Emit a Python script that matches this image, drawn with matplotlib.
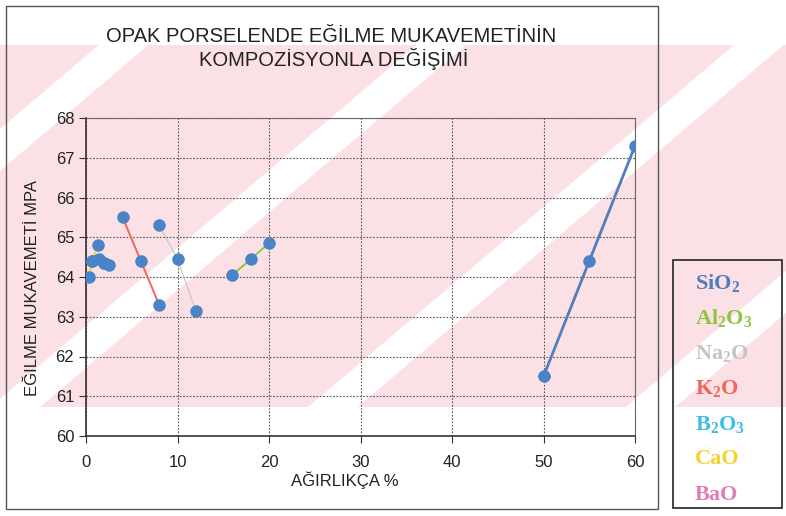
import numpy as np
import matplotlib
matplotlib.use('Agg')
import matplotlib.pyplot as plt
from matplotlib.patches import Rectangle, Polygon

# --- data (AĞIRLIKÇA %, EĞİLME MUKAVEMETİ MPA) ---
sio2_x = [50, 55, 60]
sio2_y = [61.5, 64.4, 67.3]
al2o3_x = [16, 18, 20]
al2o3_y = [64.05, 64.45, 64.85]
na2o_x = [8, 10, 12]
na2o_y = [65.3, 64.45, 63.15]
k2o_x = [4, 6, 8]
k2o_y = [65.5, 64.4, 63.3]
b2o3_x = [0.7, 1.4, 2.0]
b2o3_y = [64.4, 64.45, 64.35]
cao_x = [0.3, 0.7, 1.3]
cao_y = [64.0, 64.4, 64.8]
bao_x = [2.0, 2.5]
bao_y = [64.35, 64.3]

names = ['SiO$_2$', 'Al$_2$O$_3$', 'Na$_2$O', 'K$_2$O', 'B$_2$O$_3$', 'CaO', 'BaO']
colors = ['#4f7dbd', '#8dc63f', '#c4c4c4', '#f0665c', '#3dbbe9', '#f6d22c', '#e27cb9']
series = [(sio2_x, sio2_y), (al2o3_x, al2o3_y), (na2o_x, na2o_y), (k2o_x, k2o_y),
          (b2o3_x, b2o3_y), (cao_x, cao_y), (bao_x, bao_y)]
widths = [2.0, 1.4, 0.8, 1.4, 1.2, 1.4, 1.2]

x_ticks = [0, 10, 20, 30, 40, 50, 60]
y_ticks = [60, 61, 62, 63, 64, 65, 66, 67, 68]

plt.rcParams['font.family'] = ['Liberation Sans', 'DejaVu Sans']
plt.rcParams['mathtext.default'] = 'regular'

W, H = 786, 516
fig = plt.figure(figsize=(W / 100, H / 100), dpi=100)

# background layer in pixel units (watermark band + frames)
bg = fig.add_axes([0, 0, 1, 1], zorder=-5)
bg.set_xlim(0, W)
bg.set_ylim(H, 0)
bg.axis('off')
top, bot = 45, 407
pink = '#fbe1e5'
bg.add_patch(Rectangle((0, top), W, bot - top, color=pink, lw=0))
s, w = 0.85, 42
for b in [150, 420, 690, 960, 1230]:
    pts = [((b - w / 2 - top) / s, top), ((b + w / 2 - top) / s, top),
           ((b + w / 2 - bot) / s, bot), ((b - w / 2 - bot) / s, bot)]
    bg.add_patch(Polygon(pts, closed=True, color='white', lw=0))
bg.add_patch(Rectangle((6, 6), 652, 503, fill=False, ec='#555555', lw=1.0))
bg.add_patch(Rectangle((673, 260), 109, 248, fill=False, ec='#333333', lw=1.3))

# main axes
ax = fig.add_axes([86 / W, 1 - 436 / H, 549 / W, 318 / H])
ax.patch.set_alpha(0)
for (xs, ys), c, lw in zip(series, colors, widths):
    ax.plot(xs, ys, '-', color=c, lw=lw, zorder=2)
mk = '#4a84c6'
for xs, ys in series:
    ax.plot(xs, ys, 'o', ls='none', color=mk, ms=8, mec=mk, zorder=3)
# first points of SiO2 and K2O drawn as diamonds
ax.plot(sio2_x[:1], sio2_y[:1], 'D', color=mk, ms=6.5, zorder=4)
ax.plot(k2o_x[:1], k2o_y[:1], 'D', color=mk, ms=5.5, zorder=4)

ax.set_xlim(0, 60)
ax.set_ylim(60, 68)
ax.set_xticks(x_ticks)
ax.set_yticks(y_ticks)
ax.grid(True, ls=(0, (1.5, 1.5)), color='#555555', lw=0.8)
ax.tick_params(axis='both', labelsize=12, direction='out', length=5,
               color='#333333', labelcolor='#222222')
ax.tick_params(axis='x', pad=9)
for side in ['left', 'bottom']:
    ax.spines[side].set_color('#333333')
    ax.spines[side].set_linewidth(1.2)
for side in ['top', 'right']:
    ax.spines[side].set_color('#666666')
    ax.spines[side].set_linewidth(0.8)

fig.text(33 / W, 1 - 288 / H, 'EĞILME MUKAVEMETİ MPA', rotation=90,
         ha='center', va='center', fontsize=12, color='#222222')
fig.text(345 / W, 1 - 480 / H, 'AĞIRLIKÇA %', ha='center', va='center',
         fontsize=12, color='#222222')
fig.text(331 / W, 1 - 37 / H, 'OPAK PORSELENDE EĞİLME MUKAVEMETİNİN',
         ha='center', va='center', fontsize=14.5, color='#222222')
fig.text(334 / W, 1 - 59 / H, 'KOMPOZİSYONLA DEĞİŞİMİ',
         ha='center', va='center', fontsize=14.5, color='#222222')

# legend (coloured text only, as in the original)
for i, (nm, c) in enumerate(zip(names, colors)):
    fig.text(695 / W, 1 - (283 + 35.3 * i) / H, nm, ha='left', va='center',
             fontsize=16, fontweight='bold', color=c,
             family=['Liberation Serif', 'DejaVu Serif'])

fig.savefig('out.png', dpi=100)
